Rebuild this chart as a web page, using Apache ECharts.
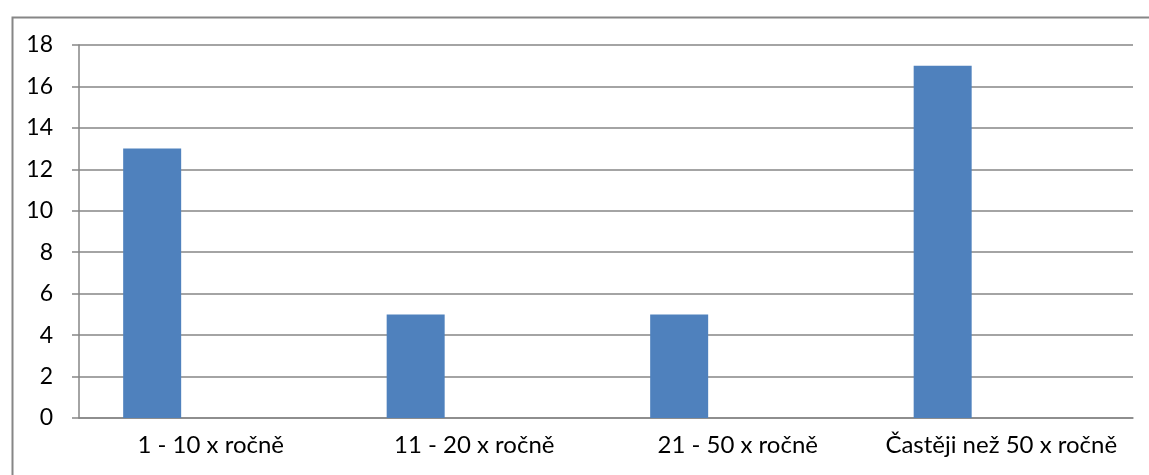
<!DOCTYPE html>
<html>
<head>
<meta charset="utf-8">
<script src="https://cdn.jsdelivr.net/npm/echarts@6/dist/echarts.min.js"></script>
<style>
  html, body { margin: 0; padding: 0; background: #fff; }
  #chart { width: 1149px; height: 475px; }
</style>
</head>
<body>
<div id="chart"></div>
<script>
const categories = ['1 - 10 x ročně', '11 - 20 x ročně', '21 - 50 x ročně', 'Častěji než 50 x ročně']
const counts = [13, 5, 5, 17]
const emptySeries = [null, null, null, null]
const yTicks = { min: 0, max: 18, interval: 2 }

const gray = '#868686'
const chart = echarts.init(document.getElementById('chart'))

chart.setOption({
  animation: false,
  textStyle: { fontFamily: 'Lato, "Open Sans", sans-serif' },
  graphic: [{
    type: 'rect',
    left: 10, top: 15,
    shape: { width: 1200, height: 500 },
    style: { fill: 'none', stroke: gray, lineWidth: 2 },
    silent: true
  }],
  grid: { left: 79, right: 16, top: 45, bottom: 57 },
  xAxis: {
    type: 'category',
    data: categories,
    axisLine: { lineStyle: { color: gray, width: 1.5 } },
    axisTick: { length: 7, lineStyle: { color: gray, width: 1.5 } },
    axisLabel: { color: '#000', fontSize: 24, margin: 15, interval: 0 }
  },
  yAxis: {
    type: 'value',
    min: yTicks.min, max: yTicks.max, interval: yTicks.interval,
    axisLine: { show: true, lineStyle: { color: gray, width: 1.5 } },
    axisTick: { show: true, length: 7, lineStyle: { color: gray, width: 1.5 } },
    splitLine: { lineStyle: { color: gray, width: 1.5 } },
    axisLabel: { color: '#000', fontSize: 23, margin: 26 }
  },
  series: [
    { type: 'bar', data: counts, barWidth: 58, barGap: '102%', itemStyle: { color: '#4F81BD' } },
    { type: 'bar', data: emptySeries, barWidth: 58, itemStyle: { color: '#C0504D' } }
  ]
})
</script>
</body>
</html>
